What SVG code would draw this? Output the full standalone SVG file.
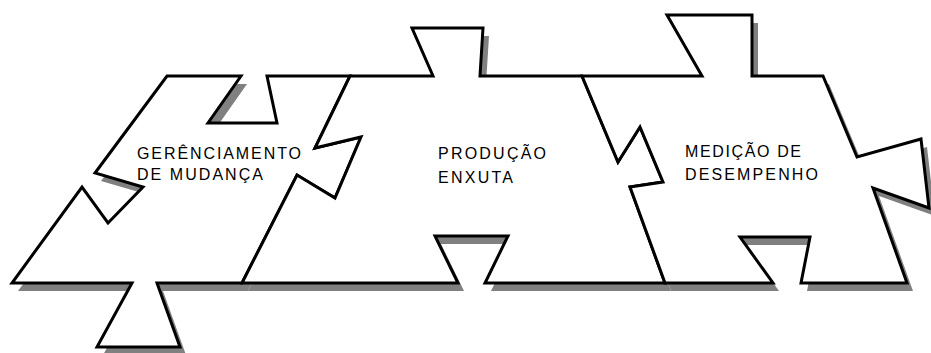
<svg xmlns="http://www.w3.org/2000/svg" xmlns:xlink="http://www.w3.org/1999/xlink" width="931" height="353" viewBox="0 0 931 353">
  <style>
    .piece { fill: #ffffff; stroke: #000000; stroke-width: 3; stroke-linejoin: miter; stroke-miterlimit: 10; }
    .shadow { fill: #808080; stroke: none; }
    .label { font-family: "Liberation Sans", Arial, sans-serif; font-size: 16px; fill: #000000; }
  </style>
  <defs>
    <path id="p1" d="M167,76 L241,76 L208,123 L277,123 L267,76 L350,76 L315,148 L361,137 L335,198 L297,175 L242,283 L157,283 L180,347 L97,347 L132,283 L12,283 L82,187 L108,223 L143,187 L95,173 Z"/>
    <path id="p2" d="M350,76 L433,76 L412,28 L483,28 L480,76 L582,76 L618,162 L640,127 L663,182 L630,187 L665,283 L485,283 L508,236 L435,236 L458,283 L242,283 L297,175 L335,198 L361,137 L315,148 Z"/>
    <path id="p3" d="M582,76 L702,76 L667,15 L752,15 L752,76 L823,76 L857,157 L921,139 L929,208 L873,188 L907,283 L801,283 L810,237 L740,237 L773,283 L665,283 L630,187 L663,182 L640,127 L618,162 Z"/>
  </defs>
  <rect x="0" y="0" width="931" height="353" fill="#ffffff"/>
  <g id="shadows" class="shadow" transform="translate(6,8)">
    <use xlink:href="#p1" href="#p1"/>
    <use xlink:href="#p2" href="#p2"/>
    <use xlink:href="#p3" href="#p3"/>
  </g>
  <g id="connectors"></g>
  <g id="node-gerenciamento">
    <use xlink:href="#p1" href="#p1" class="piece"/>
    <text class="label" x="137" y="159" textLength="164" lengthAdjust="spacing">GERÊNCIAMENTO</text>
    <text class="label" x="137" y="180" textLength="126" lengthAdjust="spacing">DE MUDANÇA</text>
  </g>
  <g id="node-producao">
    <use xlink:href="#p2" href="#p2" class="piece"/>
    <text class="label" x="438" y="159" textLength="108" lengthAdjust="spacing">PRODUÇÃO</text>
    <text class="label" x="438" y="183" textLength="75" lengthAdjust="spacing">ENXUTA</text>
  </g>
  <g id="node-medicao">
    <use xlink:href="#p3" href="#p3" class="piece"/>
    <text class="label" x="685" y="157" textLength="116" lengthAdjust="spacing">MEDIÇÃO DE</text>
    <text class="label" x="685" y="180" textLength="133" lengthAdjust="spacing">DESEMPENHO</text>
  </g>
</svg>
